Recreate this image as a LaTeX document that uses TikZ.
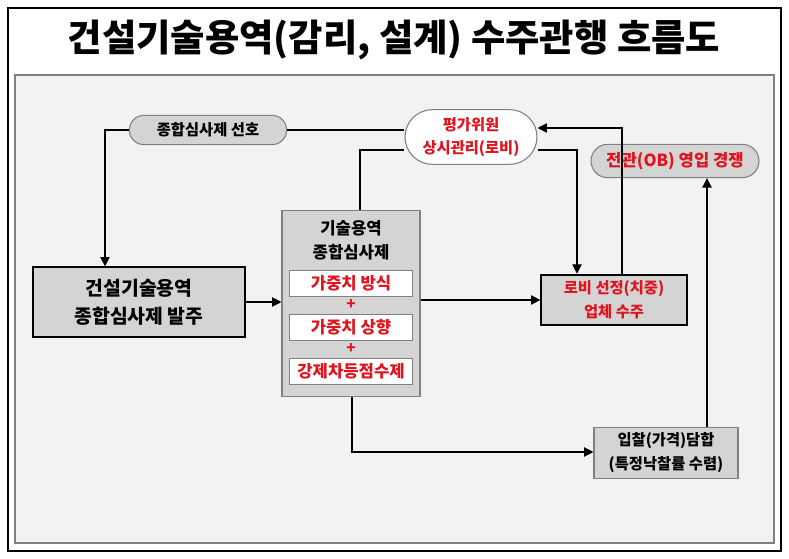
\documentclass[tikz,border=0pt]{standalone}
\usepackage{fontspec}
\setmainfont{Noto Sans CJK KR}
\usepackage{xcolor}
\usetikzlibrary{arrows.meta,shapes.misc}
\definecolor{panel}{HTML}{F2F2F2}
\definecolor{boxgray}{HTML}{D4D4D4}
\definecolor{krred}{HTML}{E0141E}
\begin{document}
\begin{tikzpicture}[x=0.75pt,y=-0.75pt,>={Triangle[length=7pt,width=7pt]},thick,font=\bfseries\fontsize{11.5}{13}\selectfont]
\tikzset{pill/.style={rounded rectangle,draw=gray,thick,fill=boxgray,inner sep=2pt},
  box/.style={rectangle,draw=black,line width=1.4pt,fill=boxgray,align=center,inner sep=0pt},
  sub/.style={rectangle,draw=gray,thick,fill=white,text=krred,inner sep=0pt,font=\bfseries\fontsize{12.5}{14}\selectfont},
  red/.style={text=krred}}
\useasboundingbox (0,0) rectangle (789,559);
\draw[line width=1pt,fill=white] (8,8) rectangle (781,551);
\node(title)at(394,40)[font=\bfseries\fontsize{28}{32}\selectfont]{건설기술용역(감리, 설계) 수주관행 흐름도};
\draw[gray,thick,fill=panel] (15,75) rectangle (774,543);
% upper row
\node(pref)at(208,130)[pill,minimum width=122pt,minimum height=22pt]{종합심사제 선호};
\node(eval)at(471,137)[pill,fill=white,red,align=center,minimum width=103pt,minimum height=41pt,font=\bfseries\fontsize{11.5}{17}\selectfont]{평가위원\\상시관리(로비)};
\node(ob)at(675,161)[pill,red,minimum width=130pt,minimum height=25pt,font=\bfseries\fontsize{12.5}{14}\selectfont]{전관(OB) 영입 경쟁};
% boxes
\node(order)at(139,302)[box,minimum width=159pt,minimum height=52pt,font=\bfseries\fontsize{14.5}{21}\selectfont]{건설기술용역\\종합심사제 발주};
\node(main)at(351,303.5)[rectangle,draw=gray,thick,fill=boxgray,minimum width=103.5pt,minimum height=140pt]{};
\node(t1)at(351,228)[font=\bfseries\fontsize{12.5}{14}\selectfont]{기술용역};
\node(t2)at(351,252)[font=\bfseries\fontsize{12.5}{14}\selectfont]{종합심사제};
\node(s1)at(351,283.5)[sub,minimum width=92pt,minimum height=19pt]{가중치 방식};
\node(p1)at(351,305)[red]{+};
\node(s2)at(351,327.5)[sub,minimum width=92pt,minimum height=19pt]{가중치 상향};
\node(p2)at(351,349)[red]{+};
\node(s3)at(351,371.5)[sub,minimum width=92pt,minimum height=19pt]{강제차등점수제};
\node(lobby)at(614,300)[box,red,minimum width=109pt,minimum height=38pt,font=\bfseries\fontsize{11.5}{18}\selectfont]{로비 선정(치중)\\업체 수주};
\node(bid)at(666,453)[rectangle,draw=gray,thick,fill=boxgray,align=center,minimum width=108pt,minimum height=38pt,font=\bfseries\fontsize{11.5}{18}\selectfont]{입찰(가격)담합\\(특정낙찰률 수렴)};
% connectors
\draw[->](pref.west)--(105,130)--(order.north-|105,0);
\draw(eval.west|-0,130)--(pref.east);
\draw[->](order.east)--(main.west|-order.east);
\draw(main.north-|360,0)--(360,150)--(eval.west|-0,150);
\draw[->](eval.east|-0,150)--(577,150)--(lobby.north-|577,0);
\draw[->](lobby.north-|622,0)--(622,128)--(eval.east|-0,128);
\draw[->](main.east|-0,300)--(lobby.west);
\draw[->](main.south-|352,0)--(352,452)--(bid.west|-0,452);
\draw[->](bid.north-|707,0)--(ob.south-|707,0);
\end{tikzpicture}
\end{document}
